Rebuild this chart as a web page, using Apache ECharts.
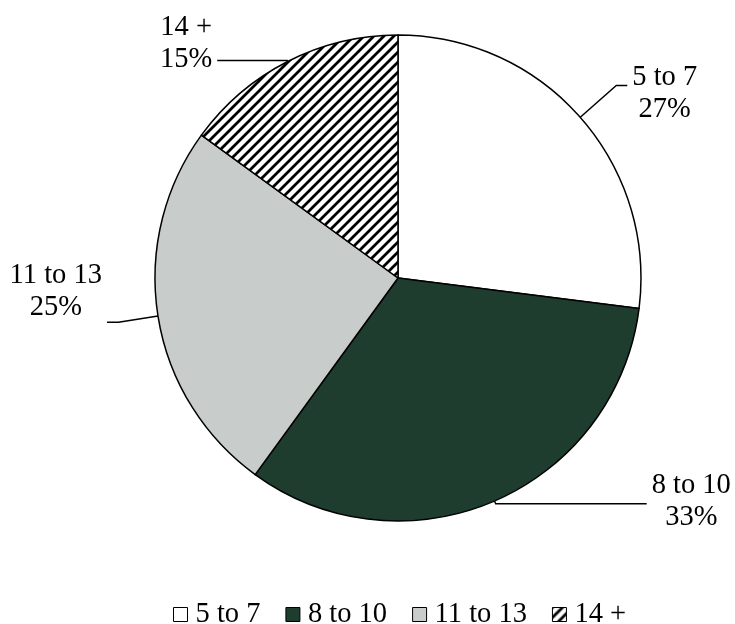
<!DOCTYPE html>
<html>
<head>
<meta charset="utf-8">
<script src="https://cdn.jsdelivr.net/npm/echarts@6/dist/echarts.min.js"></script>
<style>
html,body{margin:0;padding:0;background:#fff;}
#chart{width:735px;height:624px;}
</style>
</head>
<body>
<div id="chart"></div>
<script>
// ---- data ----
const categories = ['5 to 7', '8 to 10', '11 to 13', '14 +'];
const shares = [27, 33, 25, 15];

// ---- styles ----
function hatchPattern() {
  const s = 10;
  const c = document.createElement('canvas');
  c.width = s; c.height = s;
  const g = c.getContext('2d');
  g.fillStyle = '#ffffff'; g.fillRect(0, 0, s, s);
  g.strokeStyle = '#000000'; g.lineWidth = 2.8;
  g.beginPath();
  g.moveTo(-3, s + 3); g.lineTo(s + 3, -3);
  g.moveTo(-3, 3); g.lineTo(3, -3);
  g.moveTo(s - 3, s + 3); g.lineTo(s + 3, s - 3);
  g.stroke();
  return c;
}
const fills = ['#ffffff', '#1e3d2e', '#c8cccb', { image: hatchPattern(), repeat: 'repeat' }];
const labelStyles = [
  { length: 48, length2: 11, padding: [16, 0, 0, 0] },
  { length: 3, length2: 151, padding: [0, 0, 4, 0] },
  { length: 40, length2: 11.5, padding: [0, 0, 61, 0] },
  { length: 1, length2: 70, padding: [0, 0, 34, 0] }
];

const FONT = '"Liberation Serif", "Times New Roman", serif';
const FS = 28.5;

const chart = echarts.init(document.getElementById('chart'), null, { renderer: 'canvas' });
chart.setOption({
  backgroundColor: '#ffffff',
  animation: false,
  legend: {
    data: categories,
    left: 168,
    top: 595,
    orient: 'horizontal',
    itemWidth: 14,
    itemHeight: 14,
    itemGap: 25,
    icon: 'rect',
    itemStyle: { borderColor: '#000', borderWidth: 1 },
    textStyle: { fontFamily: FONT, fontSize: FS, color: '#000', padding: [0, 0, 0, 3] },
    selectedMode: false
  },
  series: [{
    type: 'pie',
    center: [398, 278],
    radius: 243,
    startAngle: 90,
    clockwise: true,
    avoidLabelOverlap: false,
    itemStyle: { borderColor: '#000', borderWidth: 1.5 },
    label: {
      show: true,
      position: 'outside',
      color: '#000',
      fontFamily: FONT,
      fontSize: FS,
      distanceToLabelLine: 5,
      formatter: p => '{c|' + p.name + '}\n{c|' + p.value + '%}',
      rich: { c: { align: 'center', fontFamily: FONT, fontSize: FS, lineHeight: 32, color: '#000' } }
    },
    labelLine: { show: true, lineStyle: { color: '#000', width: 1.5 } },
    emphasis: { disabled: true },
    data: categories.map((name, i) => ({
      name: name,
      value: shares[i],
      itemStyle: { color: fills[i] },
      label: { padding: labelStyles[i].padding },
      labelLine: { length: labelStyles[i].length, length2: labelStyles[i].length2 }
    }))
  }]
});
</script>
</body>
</html>
